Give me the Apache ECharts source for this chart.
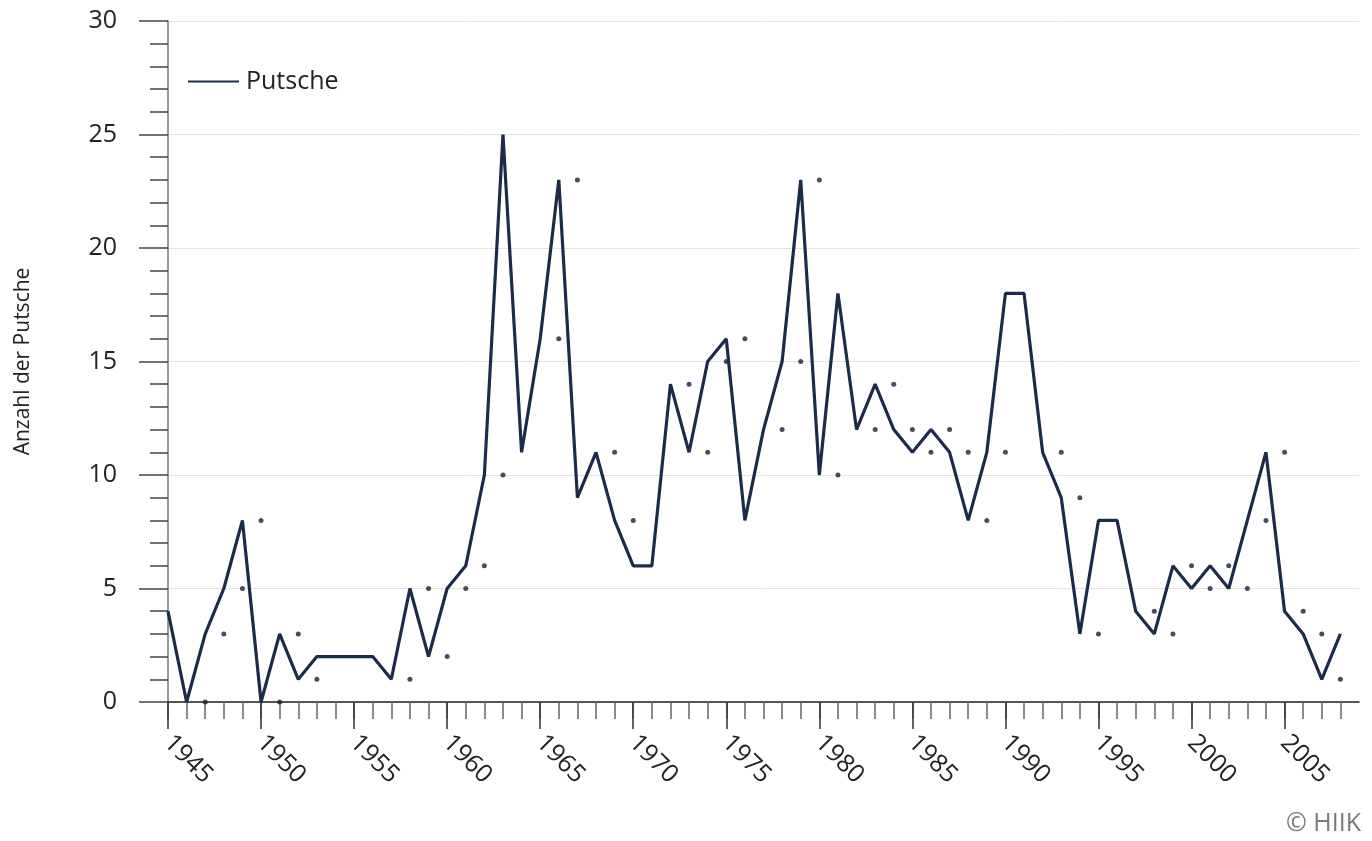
<!DOCTYPE html>
<html><head><meta charset="utf-8">
<script src="https://cdn.jsdelivr.net/npm/echarts@6/dist/echarts.min.js"></script>
<style>html,body{margin:0;padding:0;background:#fff}#c{width:1372px;height:841px}</style>
</head><body><div id="c"></div>
<script>
const years = [1945,1946,1947,1948,1949,1950,1951,1952,1953,1954,1955,1956,1957,1958,1959,
  1960,1961,1962,1963,1964,1965,1966,1967,1968,1969,1970,1971,1972,1973,1974,1975,1976,1977,1978,1979,
  1980,1981,1982,1983,1984,1985,1986,1987,1988,1989,1990,1991,1992,1993,1994,1995,1996,1997,1998,1999,
  2000,2001,2002,2003,2004,2005,2006,2007,2008];
const putsche = [4,0,3,5,8,0,3,1,2,2,2,2,1,5,2,
  5,6,10,25,11,16,23,9,11,8,6,6,14,11,15,16,8,12,15,23,
  10,18,12,14,12,11,12,11,8,11,18,18,11,9,3,8,8,4,3,6,
  5,6,5,8,11,4,3,1,3];
// small stray markers visible in the original picture (year position, value)
const markYears = [1947,1948,1949,1950,1951,1952,1953,1958,1959,1960,1961,1962,1963,1966,1967,1969,1970,
  1973,1974,1975,1976,1978,1979,1980,1981,1983,1984,1985,1986,1987,1988,1989,1990,1993,1994,1995,
  1998,1999,2000,2001,2002,2003,2004,2005,2006,2007,2008];
const markValues = [0,3,5,8,0,3,1,1,5,2,5,6,10,16,23,11,8,
  14,11,15,16,12,15,23,10,12,14,12,11,12,11,8,11,11,9,3,
  4,3,6,5,6,5,8,11,4,3,1];
const xLabelYears = [1945,1950,1955,1960,1965,1970,1975,1980,1985,1990,1995,2000,2005];
const seriesName = 'Putsche';
const yAxisTitle = 'Anzahl der Putsche';
const credit = '© HIIK';

const FONT = '"Open Sans", "Noto Sans", sans-serif';
const lineColor = '#1b2b48';

const lineData = years.map((y, i) => [y, putsche[i]]);
const dotData = markYears.map((y, i) => [y, markValues[i]]);

const chart = echarts.init(document.getElementById('c'), null, {renderer: 'canvas'});
chart.setOption({
  animation: false,
  backgroundColor: '#fff',
  textStyle: {fontFamily: FONT},
  grid: {left: 168, right: 13, top: 21, bottom: 139, containLabel: false, outerBoundsMode: 'none'},
  legend: {
    data: [seriesName], left: 183, top: 64, icon: 'rect', itemWidth: 51, itemHeight: 2,
    itemGap: 10, textStyle: {fontSize: 25, color: '#222', fontFamily: FONT, padding: [0,0,0,2]}
  },
  xAxis: [{
    type: 'value', min: 1945, max: 2009, interval: 1,
    axisLine: {show: true, onZero: false, lineStyle: {color: '#222', width: 1.5}},
    axisTick: {show: true, length: 17, customValues: years, lineStyle: {color: '#666', width: 1.5}},
    axisLabel: {show: false},
    splitLine: {show: false}
  }, {
    type: 'value', min: 1945, max: 2009, position: 'bottom',
    axisLine: {show: false},
    axisTick: {show: true, length: 27, customValues: xLabelYears, lineStyle: {color: '#333', width: 1.5}},
    axisLabel: {show: true, customValues: xLabelYears, rotate: -45, margin: 37, fontSize: 25,
      color: '#222', fontFamily: FONT, formatter: v => String(v)},
    splitLine: {show: false}
  }],
  yAxis: {
    type: 'value', min: 0, max: 30, interval: 5,
    name: yAxisTitle, nameLocation: 'middle', nameGap: 134, nameRotate: 90,
    nameTextStyle: {fontSize: 21, color: '#222', fontFamily: FONT},
    axisLine: {show: true, lineStyle: {color: '#777', width: 1.5}},
    axisTick: {show: true, length: 29, lineStyle: {color: '#444', width: 1.5}},
    minorTick: {show: true, splitNumber: 5, length: 18, lineStyle: {color: '#444', width: 1.5}},
    axisLabel: {fontSize: 25, color: '#222', margin: 51, fontFamily: FONT},
    splitLine: {show: true, lineStyle: {color: '#e2e2e2', width: 1}}
  },
  series: [{
    name: seriesName, type: 'line', xAxisIndex: 0, data: lineData,
    showSymbol: false, symbol: 'none',
    lineStyle: {color: lineColor, width: 3.2}, itemStyle: {color: lineColor}, z: 3
  }, {
    name: 'marks', type: 'scatter', xAxisIndex: 0, data: dotData,
    symbol: 'circle', symbolSize: 5, itemStyle: {color: '#14223c'}, z: 2, silent: true
  }],
  graphic: [{
    type: 'text', right: 11, bottom: 5,
    style: {text: credit, fontSize: 25, fill: '#7a7a7a', fontFamily: FONT}
  }]
});
</script>
</body></html>
